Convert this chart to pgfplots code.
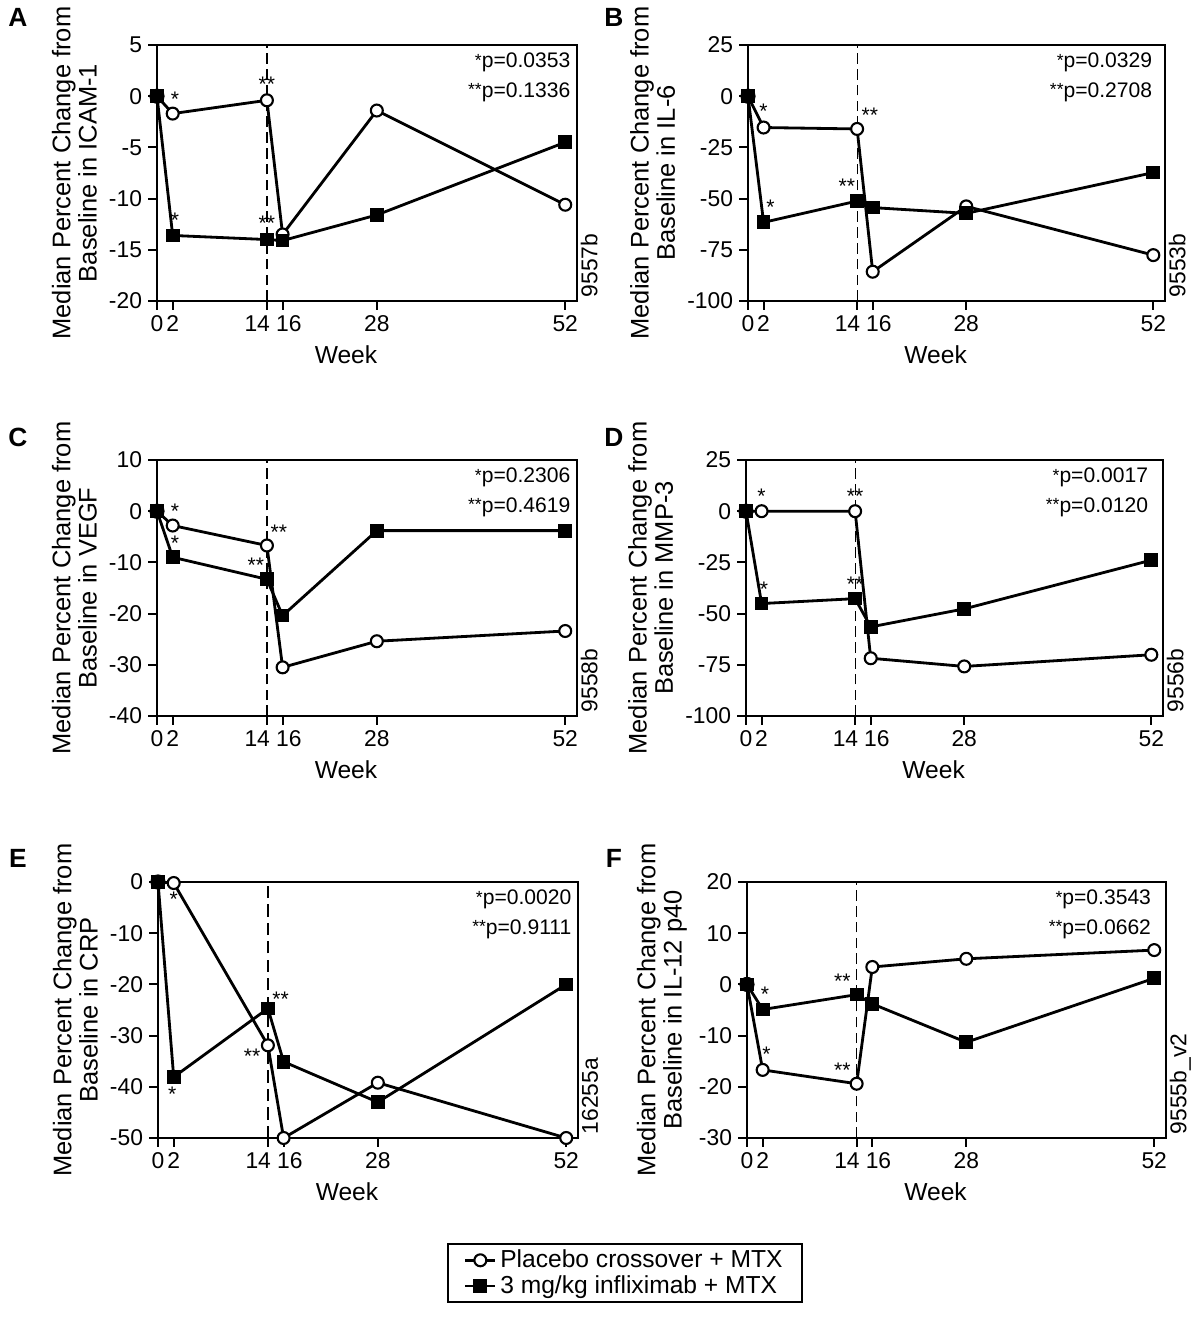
\documentclass[border=0pt]{standalone}
\usepackage{fontspec}
\setmainfont{Liberation Sans}
\usepackage{pgfplots}
\pgfplotsset{compat=1.18}

\pgfplotsset{
  panel/.style={
    width=8.4cm, height=5.12cm, scale only axis,
    xmin=0, xmax=53.5,
    xtick={0,2,14,16,28,52},
    xticklabels={0,2,{\hspace*{-11pt}14},{16\hspace*{-7pt}},28,52},
    axis line style={line width=1.5pt},
    every tick/.style={line width=1.1pt, black},
    tick align=outside, xtick pos=bottom, ytick pos=left,
    major tick length=5pt,
    tick label style={font=\fontsize{13}{13}\selectfont},
    label style={font=\fontsize{14}{14}\selectfont},
    xlabel=Week,
    xlabel style={at={(axis description cs:0.45,0)}, anchor=north, yshift=-22pt},
    ylabel style={align=center, font=\fontsize{14.5}{15}\selectfont},
    /pgf/number format/assume math mode=true,
    clip=false,
  },
  placebo/.style={line width=1.6pt, black, mark=*, mark size=3.4pt,
    mark options={fill=white, line width=1.2pt, solid}},
  inflix/.style={line width=1.6pt, black, mark=square*, mark size=3.1pt,
    mark options={fill=black, solid}},
  base/.style={only marks, mark=*, mark size=4.1pt, black, forget plot},
  refline/.style={line width=0.7pt, black, dash pattern=on 6pt off 3pt, forget plot},
}
\tikzset{
  st/.style={font=\fontsize{12}{12}\selectfont, inner sep=1pt},
  pv/.style={font=\fontsize{12}{17}\selectfont, align=right, anchor=north east, inner sep=0pt},
  side/.style={rotate=90, anchor=north west, font=\fontsize{13}{13}\selectfont, inner sep=2pt},
}
\newcommand{\sx}{\raisebox{0.15ex}{\fontsize{10}{10}\selectfont *}}

\begin{document}
\begin{tikzpicture}
\path[use as bounding box] (0,0) rectangle (24,26.34);

% ---------- A: ICAM-1
\begin{axis}[panel, at={(3.14cm,20.32cm)}, anchor=south west,
  ymin=-20, ymax=5, ytick={-20,-15,...,5},
  ylabel={Median Percent Change from\\Baseline in ICAM-1}]
\addplot[refline] coordinates {(14,-20) (14,5)};
\addplot[placebo] coordinates {(0,0) (2,-1.7) (14,-0.4) (16,-13.5) (28,-1.4) (52,-10.6)};
\addplot[inflix] coordinates {(0,0) (2,-13.6) (14,-14.0) (16,-14.1) (28,-11.6) (52,-4.5)};
\addplot[base] coordinates {(0,0)};
\node[st, anchor=south] at (axis cs:2.3,-1.2) {*};
\node[st, anchor=south] at (axis cs:2.3,-13.0) {*};
\node[st, anchor=south] at (axis cs:14,0.3) {**};
\node[st, anchor=south] at (axis cs:14,-13.3) {**};
\node[pv] at (rel axis cs:0.985,0.97) {\sx p=0.0353\\\sx\sx p=0.1336};
\node[side] at (rel axis cs:1,0) {9557b};
\end{axis}

% ---------- B: IL-6
\begin{axis}[panel, at={(14.96cm,20.32cm)}, anchor=south west, width=8.34cm,
  ymin=-100, ymax=25, ytick={-100,-75,...,25},
  ylabel={Median Percent Change from\\Baseline in IL-6}]
\addplot[refline] coordinates {(14,-100) (14,25)};
\addplot[placebo] coordinates {(0,0) (2,-15.3) (14,-16) (16,-85.7) (28,-53.8) (52,-77.6)};
\addplot[inflix] coordinates {(0,0) (2,-61.6) (14,-51.2) (16,-54.4) (28,-57.2) (52,-37.3)};
\addplot[base] coordinates {(0,0)};
\node[st, anchor=south] at (axis cs:2,-12) {*};
\node[st, anchor=south west] at (axis cs:14.3,-14) {**};
\node[st, anchor=south west] at (axis cs:2.1,-59) {*};
\node[st, anchor=south east] at (axis cs:14,-48.5) {**};
\node[pv] at (rel axis cs:0.97,0.97) {\sx p=0.0329\\\sx\sx p=0.2708};
\node[side] at (rel axis cs:1,0) {9553b};
\end{axis}

% ---------- C: VEGF
\begin{axis}[panel, at={(3.14cm,12.02cm)}, anchor=south west,
  ymin=-40, ymax=10, ytick={-40,-30,...,10},
  ylabel={Median Percent Change from\\Baseline in VEGF}]
\addplot[refline] coordinates {(14,-40) (14,10)};
\addplot[placebo] coordinates {(0,0) (2,-2.8) (14,-6.7) (16,-30.5) (28,-25.4) (52,-23.4)};
\addplot[inflix] coordinates {(0,0) (2,-9.0) (14,-13.3) (16,-20.4) (28,-3.8) (52,-3.8)};
\addplot[base] coordinates {(0,0)};
\node[st, anchor=south] at (axis cs:2.3,-1.8) {*};
\node[st, anchor=south] at (axis cs:2.3,-8.0) {*};
\node[st, anchor=south west] at (axis cs:14.2,-6.0) {**};
\node[st, anchor=south east] at (axis cs:13.9,-12.3) {**};
\node[pv] at (rel axis cs:0.985,0.97) {\sx p=0.2306\\\sx\sx p=0.4619};
\node[side] at (rel axis cs:1,0) {9558b};
\end{axis}

% ---------- D: MMP-3
\begin{axis}[panel, at={(14.92cm,12.02cm)}, anchor=south west, width=8.34cm,
  ymin=-100, ymax=25, ytick={-100,-75,...,25},
  ylabel={Median Percent Change from\\Baseline in MMP-3}]
\addplot[refline] coordinates {(14,-100) (14,25)};
\addplot[placebo] coordinates {(0,0) (2,0) (14,0) (16,-71.8) (28,-75.8) (52,-70.1)};
\addplot[inflix] coordinates {(0,0) (2,-45.1) (14,-42.7) (16,-56.5) (28,-47.7) (52,-23.9)};
\addplot[base] coordinates {(0,0)};
\node[st, anchor=south] at (axis cs:2,2.5) {*};
\node[st, anchor=south] at (axis cs:14,2.5) {**};
\node[st, anchor=south] at (axis cs:2.3,-42.5) {*};
\node[st, anchor=south] at (axis cs:14,-40.3) {**};
\node[pv] at (rel axis cs:0.965,0.97) {\sx p=0.0017\\\sx\sx p=0.0120};
\node[side] at (rel axis cs:1,0) {9556b};
\end{axis}

% ---------- E: CRP
\begin{axis}[panel, at={(3.16cm,3.58cm)}, anchor=south west,
  ymin=-50, ymax=0, ytick={-50,-40,...,0},
  ylabel={Median Percent Change from\\Baseline in CRP},
  legend style={at={(1.112,-0.41)}, anchor=north, draw=black, line width=1.1pt,
    font=\fontsize{14}{14}\selectfont, inner xsep=9pt, inner ysep=1.5pt, row sep=-1pt},
  legend cell align=left]
\addplot[line width=1.5pt, black, dash pattern=on 7pt off 3.5pt, forget plot] coordinates {(14,-50) (14,0)};
\addplot[placebo] coordinates {(0,0) (2,-0.2) (14,-31.9) (16,-50) (28,-39.2) (52,-50)};
\addplot[inflix] coordinates {(0,0) (2,-38.1) (14,-24.7) (16,-35.1) (28,-43.0) (52,-20)};
\addplot[base] coordinates {(0,0)};
\node[st, anchor=north] at (axis cs:2,-1.5) {*};
\node[st, anchor=north] at (axis cs:1.8,-39.6) {*};
\node[st, anchor=south west] at (axis cs:14.3,-24.8) {**};
\node[st, anchor=north east] at (axis cs:13.3,-32.3) {**};
\node[pv] at (rel axis cs:0.985,0.97) {\sx p=0.0020\\\sx\sx p=0.9111};
\node[side] at (rel axis cs:1,0) {16255a};
\legend{Placebo crossover + MTX, 3 mg/kg infliximab + MTX}
\end{axis}

% ---------- F: IL-12 p40
\begin{axis}[panel, at={(14.94cm,3.58cm)}, anchor=south west, width=8.38cm,
  ymin=-30, ymax=20, ytick={-30,-20,...,20},
  ylabel={Median Percent Change from\\Baseline in IL-12 p40}]
\addplot[refline] coordinates {(14,-30) (14,20)};
\addplot[placebo] coordinates {(0,0) (2,-16.7) (14,-19.4) (16,3.4) (28,5.0) (52,6.7)};
\addplot[inflix] coordinates {(0,0) (2,-4.9) (14,-2.0) (16,-3.8) (28,-11.3) (52,1.2)};
\addplot[base] coordinates {(0,0)};
\node[st, anchor=south] at (axis cs:2.3,-3.8) {*};
\node[st, anchor=south] at (axis cs:2.5,-15.5) {*};
\node[st, anchor=south east] at (axis cs:13.5,-1.2) {**};
\node[st, anchor=south east] at (axis cs:13.5,-18.5) {**};
\node[pv] at (rel axis cs:0.965,0.97) {\sx p=0.3543\\\sx\sx p=0.0662};
\node[side] at (rel axis cs:1,0) {9555b\_v2};
\end{axis}

% panel letters
\node[font=\bfseries\fontsize{15}{15}\selectfont] at (0.36,25.99) {A};
\node[font=\bfseries\fontsize{15}{15}\selectfont] at (12.28,25.99) {B};
\node[font=\bfseries\fontsize{15}{15}\selectfont] at (0.36,17.59) {C};
\node[font=\bfseries\fontsize{15}{15}\selectfont] at (12.28,17.59) {D};
\node[font=\bfseries\fontsize{15}{15}\selectfont] at (0.36,9.18) {E};
\node[font=\bfseries\fontsize{15}{15}\selectfont] at (12.28,9.18) {F};
\end{tikzpicture}
\end{document}
